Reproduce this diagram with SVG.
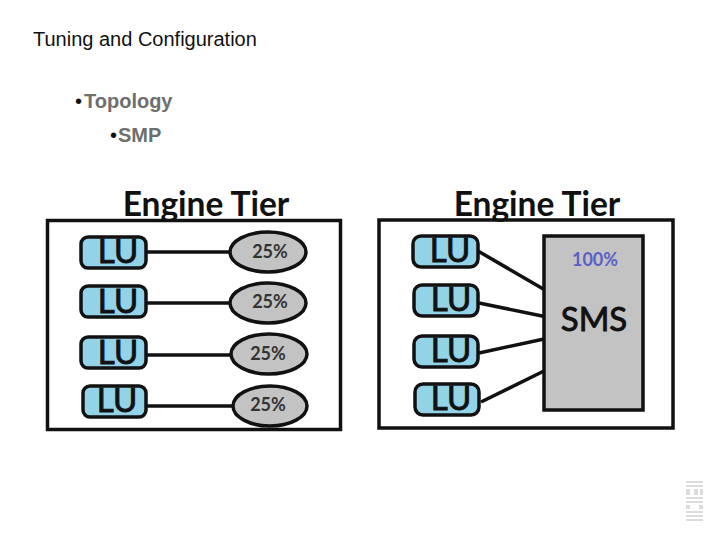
<svg xmlns="http://www.w3.org/2000/svg" width="720" height="540" viewBox="0 0 720 540">
<style>
.h{font-family:"Liberation Sans",Arial,sans-serif;font-size:20px;fill:#111}
.b{font-family:"Liberation Sans",Arial,sans-serif;font-size:20px;font-weight:bold;fill:#6e6e6e}
.d{font-family:"Liberation Sans",Arial,sans-serif;font-size:20px;fill:#111}
.t{font-family:Lato,"Open Sans",sans-serif;font-size:33.5px;font-weight:bold;fill:#111;text-anchor:middle}
.panel{fill:#fff;stroke:#111;stroke-width:3.5}
.lu rect{fill:#93d3e8;stroke:#111;stroke-width:3.5}
.lu text{font-family:Lato,"Open Sans",sans-serif;font-size:33px;fill:#111;stroke:#111;stroke-width:.9;text-anchor:middle}
.pc ellipse{fill:#c3c3c3;stroke:#111;stroke-width:3.5}
.pc text{font-family:Lato,"Open Sans",sans-serif;font-size:18px;font-weight:bold;fill:#333;text-anchor:middle}
.c line{stroke:#111;stroke-width:3.5}
.logo rect{fill:#dcdcdc}
</style>
<rect width="720" height="540" fill="#fff"/>
<text class="h" x="33" y="46">Tuning and Configuration</text>
<text class="d" x="75" y="108">•</text><text class="b" x="84" y="108">Topology</text>
<text class="d" x="110" y="142">•</text><text class="b" x="118" y="142">SMP</text>

<g id="panel-left"><rect class="panel" x="47.5" y="220.5" width="293" height="209"/></g>
<g id="panel-right"><rect class="panel" x="379" y="220" width="294" height="208"/></g>
<text class="t" x="206" y="216">Engine Tier</text>
<text class="t" x="537" y="216">Engine Tier</text>

<g id="connectors" class="c">
<line x1="146" y1="252" x2="231" y2="252"/>
<line x1="146" y1="303" x2="230" y2="303"/>
<line x1="146" y1="355" x2="231" y2="355"/>
<line x1="146" y1="406" x2="233" y2="406"/>
<line x1="478" y1="251" x2="545" y2="290"/>
<line x1="479" y1="303" x2="547" y2="317"/>
<line x1="479" y1="353" x2="544" y2="339"/>
<line x1="481" y1="402" x2="544" y2="371"/>
</g>

<g id="lu1" class="lu"><rect x="81" y="237" width="65" height="31" rx="7"/><text x="118" y="263">LU</text></g>
<g id="lu2" class="lu"><rect x="81" y="286" width="65" height="31" rx="7"/><text x="118" y="313">LU</text></g>
<g id="lu3" class="lu"><rect x="81" y="337" width="65" height="31" rx="7"/><text x="118" y="364">LU</text></g>
<g id="lu4" class="lu"><rect x="83" y="386" width="63" height="31" rx="7"/><text x="117" y="412">LU</text></g>

<g id="pct1" class="pc"><ellipse cx="268" cy="252" rx="38" ry="20"/><text x="270" y="258">25%</text></g>
<g id="pct2" class="pc"><ellipse cx="268" cy="303" rx="38" ry="20"/><text x="270" y="308">25%</text></g>
<g id="pct3" class="pc"><ellipse cx="269" cy="354" rx="38" ry="20"/><text x="268" y="360">25%</text></g>
<g id="pct4" class="pc"><ellipse cx="270" cy="406" rx="37" ry="20"/><text x="268" y="411">25%</text></g>

<g id="lu5" class="lu"><rect x="413" y="236" width="65" height="31" rx="8"/><text x="450" y="262">LU</text></g>
<g id="lu6" class="lu"><rect x="414" y="285" width="64" height="31" rx="8"/><text x="451" y="311">LU</text></g>
<g id="lu7" class="lu"><rect x="414" y="336" width="64" height="31" rx="8"/><text x="451" y="362">LU</text></g>
<g id="lu8" class="lu"><rect x="415" y="384" width="64" height="31" rx="8"/><text x="451" y="410">LU</text></g>

<g id="sms">
<rect x="544" y="236" width="99" height="174" fill="#c3c3c3" stroke="#111" stroke-width="3.5"/>
<text x="595" y="266" font-family="Lato,'Open Sans',sans-serif" font-size="18" font-weight="bold" fill="#5a5fc8" text-anchor="middle">100%</text>
<text x="594" y="331" font-family="Lato,'Open Sans',sans-serif" font-size="33" fill="#111" stroke="#111" stroke-width=".9" text-anchor="middle">SMS</text>
</g>

<g id="logo" class="logo">
<rect x="686" y="481" width="17" height="2"/><rect x="686" y="485" width="17" height="2"/>
<rect x="686" y="489" width="4" height="6"/><rect x="694" y="489" width="4" height="6"/><rect x="700" y="489" width="3" height="6"/>
<rect x="686" y="497" width="17" height="2"/><rect x="686" y="501" width="17" height="2"/>
<rect x="686" y="505" width="4" height="4"/><rect x="699" y="505" width="4" height="4"/>
<rect x="686" y="511" width="17" height="2"/><rect x="686" y="515" width="17" height="2"/><rect x="686" y="519" width="17" height="2"/>
</g>
</svg>
